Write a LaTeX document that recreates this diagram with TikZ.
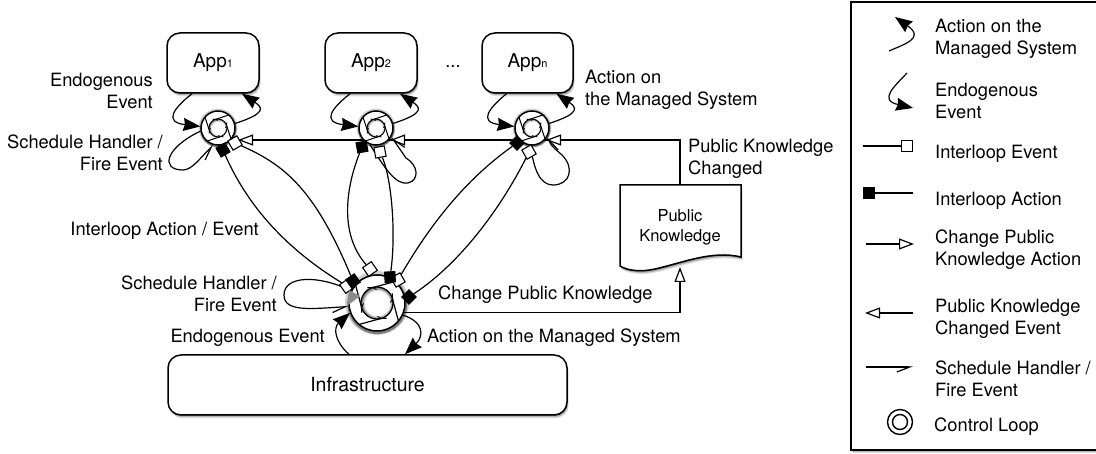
\documentclass[tikz,border=0pt]{standalone}
\usepackage{fontspec}
\setmainfont{TeX Gyre Heros}
\usetikzlibrary{arrows.meta,shadows,shapes.geometric,calc,backgrounds}
\pgfdeclarelayer{edges}
\pgfsetlayers{background,edges,main}
\pgfdeclareradialshading{holeglow}{\pgfpointorigin}{color(0bp)=(white); color(19bp)=(white); color(25bp)=(black!60); color(50bp)=(black!60)}
\tikzset{
  softshadow/.style={drop shadow={shadow xshift=0.6pt,shadow yshift=-1pt,opacity=.35,fill=black},
                     drop shadow={shadow xshift=1.2pt,shadow yshift=-2.2pt,opacity=.2,fill=black},
                     drop shadow={shadow xshift=1.6pt,shadow yshift=-3.4pt,opacity=.12,fill=black}},
  appbox/.style={draw,line width=1.5pt,fill=white,rounded corners=13pt,inner sep=0pt,font=\fontsize{19}{22}\selectfont,softshadow},
  lab/.style={inner sep=0pt,font=\fontsize{18.3}{22}\selectfont,align=left},
  labr/.style={inner sep=0pt,font=\fontsize{18.3}{22}\selectfont,align=right},
  ringn/.style={circle,draw,line width=1.5pt,fill=white,inner sep=0pt,
     drop shadow={shadow scale=1.14,shadow xshift=0pt,shadow yshift=0pt,opacity=.18,fill=black},
     drop shadow={shadow scale=1.07,shadow xshift=0.3pt,shadow yshift=-1pt,opacity=.4,fill=black}},
  blk/.style={draw,line width=.8pt,fill=black,minimum size=10.5pt,inner sep=0pt},
  wht/.style={draw,line width=1.1pt,fill=white,minimum size=10.5pt,inner sep=0pt},
  conn/.style={line width=1.2pt},
  solidhead/.style={conn,-{Stealth[inset=1.5pt,length=17pt,width=13pt]}},
  openhead/.style={conn,-{Triangle[open,fill=white,length=15pt,width=11pt,line width=1.2pt]}},
  halfhead/.style={conn,-{Straight Barb[harpoon,swap,length=13pt,width=10pt,line width=1.2pt]}}
}
% ring decoration: #1 node, #2 outer radius, #3 inner radius, #4 line width
\newcommand{\ringdeco}[4]{%
  \begin{scope}[shift={(#1.center)},line width=#4]
    \foreach \k in {0,90,180,270}{
      \draw ($(\k+50:#2pt)$) -- ($(\k+105:#3pt)$);
      \draw ($(\k+105:#3pt)$) -- ($(\k+122:#3pt+#2pt/6-#3pt/6)$);
    }
    \node[circle,draw,line width=#4,minimum size=2*#3pt,inner sep=0pt,shading=holeglow] at (0,0) {};
    \foreach \k in {0,90,180,270}{
      \draw[line width=.9pt] ($(\k+105:#3pt)$) -- ($(\k+92:#3pt-#3pt/6)$);
    }
  \end{scope}}
\begin{document}
\begin{tikzpicture}[x=1pt,y=-1pt]
\useasboundingbox (0,0) rectangle (1096,454);
\clip (0,0) rectangle (1096,454);

% Apps and infrastructure
\node[appbox,minimum width=92pt,minimum height=60pt] (a1) at (213,63) {App{\fontsize{11}{11}\selectfont 1}};
\node[appbox,minimum width=92pt,minimum height=60pt] (a2) at (371,63) {App{\fontsize{11}{11}\selectfont 2}};
\node[appbox,minimum width=91pt,minimum height=60pt] (an) at (527.5,63) {App{\fontsize{11}{11}\selectfont n}};
\node[appbox,minimum width=399pt,minimum height=60pt,font=\fontsize{19.5}{22}\selectfont] (inf) at (367.5,385) {Infrastructure};

% Public knowledge document
\draw[line width=1.5pt,fill=white,softshadow] (620,185) -- (741,185) -- (741,257)
   .. controls (712,250) and (682,263) .. (655,269)
   .. controls (642,272) and (628,271) .. (620,266) -- cycle;
\node[inner sep=0pt,align=center,font=\fontsize{16.5}{20}\selectfont] (pk) at (680,227) {Public\\Knowledge};
\coordinate (pkt) at (680,185);
\coordinate (pkb) at (680,267);

% Control loops
\node[ringn,minimum size=34pt] (l1) at (218,128) {};
\node[ringn,minimum size=34pt] (l2) at (376,128) {};
\node[ringn,minimum size=34pt] (ln) at (532,128) {};
\node[ringn,minimum size=56pt] (lb) at (377,303) {};
\ringdeco{l1}{17}{9}{1pt}
\ringdeco{l2}{17}{9}{1pt}
\ringdeco{ln}{17}{9}{1pt}
\ringdeco{lb}{28}{16}{1.2pt}

% Interloop markers
\node[wht,rotate=35] (wb0) at (347,286) {};
\node[blk,rotate=35] (bb1) at (353,281) {};
\node[wht,rotate=35] (wb1) at (370,269) {};
\node[wht,rotate=30] (wb2) at (398,280) {};
\node[blk,rotate=3] (bb2) at (390,277) {};
\node[blk,rotate=45] (bb3) at (409,297) {};
\node[blk,rotate=30] (b1) at (223,150) {};
\node[wht,rotate=30] (w1) at (235,143) {};
\node[blk,rotate=10] (b2) at (362,147) {};
\node[wht,rotate=10] (w2) at (380,152) {};
\node[blk,rotate=45] (bn) at (517,143) {};
\node[wht,rotate=30] (wn) at (529,152) {};
\coordinate (t1) at (238,140);
\coordinate (t2) at (390,140);
\coordinate (tn) at (546,140);

\begin{pgfonlayer}{edges}
% public knowledge changed
\draw[openhead] (pkt) |- (t1);
\draw[openhead] (pkt) |- (t2);
\draw[openhead] (pkt) |- (tn);
% change public knowledge
\draw[openhead] (lb.-20) -- (lb.-20 -| pkb) -- (pkb);
% interloop connections
\draw[conn] (b1) .. controls (245,200) and (280,245) .. (wb0);
\draw[conn] (w1) .. controls (285,165) and (315,190) .. (bb1);
\draw[conn] (b2) .. controls (345,190) and (340,235) .. (wb1);
\draw[conn] (w2) .. controls (392,180) and (396,235) .. (bb2);
\draw[conn] (bn) .. controls (465,180) and (430,225) .. (wb2);
\draw[conn] (wn) .. controls (505,200) and (465,260) .. (bb3);
% app loops
\draw[solidhead] ([xshift=-21pt]a1.south) .. controls (174,108) and (163,122) .. (l1.175);
\draw[solidhead] (l1.15) .. controls (268,113) and (262,107) .. ([xshift=29pt]a1.south);
\draw[solidhead] ([xshift=-21pt]a2.south) .. controls (332,108) and (321,122) .. (l2.175);
\draw[solidhead] (l2.15) .. controls (426,113) and (420,107) .. ([xshift=29pt]a2.south);
\draw[solidhead] ([xshift=-21pt]an.south) .. controls (489,108) and (478,122) .. (ln.175);
\draw[solidhead] (ln.15) .. controls (582,113) and (576,107) .. ([xshift=29pt]an.south);
% self loops
\draw[halfhead] (l1.190) .. controls (165,148) and (160,170) .. (183,170) .. controls (192,170) and (200,158) .. (l1.-105);
\draw[halfhead] (l2.-110) .. controls (386,170) and (396,185) .. (408,183) .. controls (420,180) and (418,165) .. (406,158) -- (l2.-30);
\draw[halfhead] (ln.-95) .. controls (534,170) and (540,185) .. (553,185) .. controls (570,185) and (575,168) .. (562,155) .. controls (558,151) and (552,148) .. (ln.-30);
\draw[halfhead] (lb.155) .. controls (320,275) and (284,275) .. (284,295) .. controls (284,312) and (310,309) .. (lb.187);
% infrastructure
\draw[solidhead] ([xshift=-18.5pt]inf.north) .. controls (335,342) and (333,328) .. (lb.200);
\draw[solidhead] (lb.-25) .. controls (424,322) and (424,336) .. ([xshift=37.5pt]inf.north);
\end{pgfonlayer}

% gray triangle on big loop
\fill[black!45] (349,290) -- (360,296) -- (347,306) -- cycle;

% Labels
\node[labr,anchor=east] (le1) at (153,91) {Endogenous\\Event};
\node[labr,anchor=east] (le2) at (163,152.5) {Schedule Handler /\\Fire Event};
\node[lab,anchor=east] (le3) at (259,231) {Interloop Action / Event};
\node[labr,anchor=east] (le4) at (277,294) {Schedule Handler /\\Fire Event};
\node[lab,anchor=east] (le5) at (325,338) {Endogenous Event};
\node[lab,anchor=west] (le6) at (427,338) {Action on the Managed System};
\node[lab,anchor=west] (le7) at (438,295) {Change Public Knowledge};
\node[lab,anchor=west] (le8) at (585,89.5) {Action on\\the Managed System};
\node[lab,anchor=west] (le9) at (688,159) {Public Knowledge\\Changed};
\node[lab,anchor=base] (dots) at (453,68) {...};

% Legend
\draw[line width=1.6pt,fill=white,softshadow] (851,2) rectangle (1110,450);
\coordinate (g1a) at (889,51); \coordinate (g1b) at (895,17);
\draw[solidhead] (g1a) .. controls (905,44) and (925,38) .. (g1b);
\coordinate (g2a) at (907,73); \coordinate (g2b) at (913,108);
\draw[solidhead] (g2a) .. controls (895,86) and (878,100) .. (g2b);
\node[wht,minimum size=10.5pt] (g3s) at (907,146) {};
\coordinate (g3a) at (863,146);
\draw[conn] (g3a) -- (g3s);
\node[blk,minimum size=11pt] (g4s) at (869,193) {};
\coordinate (g4b) at (913,193);
\draw[conn] (g4s) -- (g4b);
\coordinate (g5a) at (866,244); \coordinate (g5b) at (914,244);
\draw[openhead] (g5a) -- (g5b);
\coordinate (g6a) at (913,313); \coordinate (g6b) at (865,313);
\draw[openhead] (g6a) -- (g6b);
\coordinate (g7a) at (866,367); \coordinate (g7b) at (913,367);
\draw[halfhead] (g7a) -- (g7b);
\node[circle,draw,line width=1.4pt,fill=white,minimum size=25pt,inner sep=0pt] (g8) at (900,422) {};
\node[circle,draw,line width=1.4pt,fill=white,minimum size=15pt,inner sep=0pt] (g8i) at (900,422) {};

\node[lab,anchor=west] (t1l) at (935,39) {Action on the\\Managed System};
\node[lab,anchor=west] (t2l) at (935,101) {Endogenous\\Event};
\node[lab,anchor=west] (t3l) at (935,154) {Interloop Event};
\node[lab,anchor=west] (t4l) at (935,201) {Interloop Action};
\node[lab,anchor=west] (t5l) at (935,250) {Change Public\\Knowledge Action};
\node[lab,anchor=west] (t6l) at (935,319) {Public Knowledge\\Changed Event};
\node[lab,anchor=west] (t7l) at (935,379) {Schedule Handler /\\Fire Event};
\node[lab,anchor=west] (t8l) at (934,427) {Control Loop};
\end{tikzpicture}
\end{document}
